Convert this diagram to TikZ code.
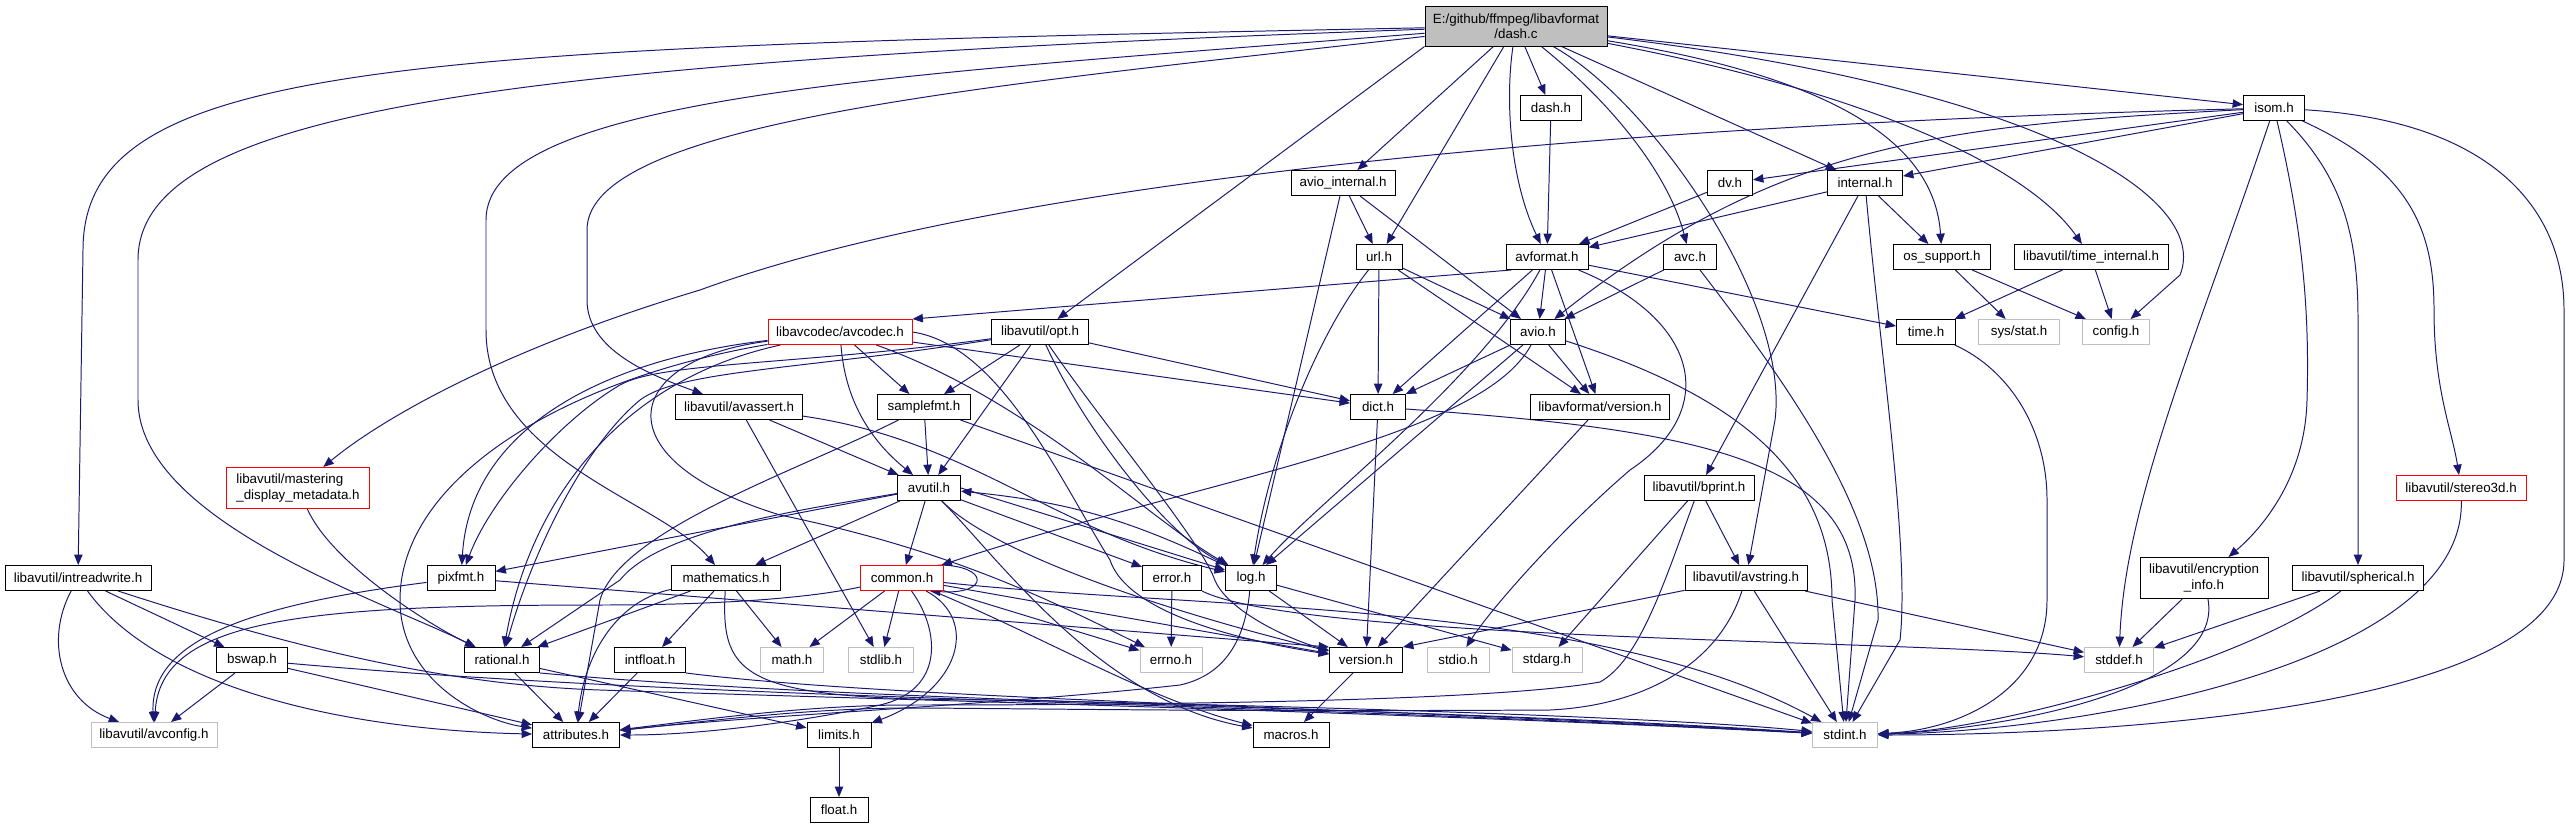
\documentclass[tikz,border=0pt]{standalone}
\usepackage{fontspec}
\setmainfont{Liberation Sans}
\usepackage{xcolor}
\usetikzlibrary{arrows.meta, backgrounds}
\definecolor{edgeblue}{HTML}{191970}
\definecolor{sysgray}{HTML}{BFBFBF}

\begin{document}
\begin{tikzpicture}[
  x=0.25mm, y=-0.25mm,
  box/.style={draw=black, fill=white, line width=0.7pt, inner sep=1pt,
              minimum height=6.25mm, align=center, font=\fontsize{9.5}{11}\selectfont},
  sysbox/.style={box, draw=sysgray},
  redbox/.style={box, draw=red},
  rootbox/.style={box, fill=sysgray},
  bw/.style={minimum width=#1*0.25mm},
  bh/.style={minimum height=#1*0.25mm},
  arr/.style={-{Triangle[length=2.6mm, width=2.1mm]}, draw=edgeblue, line width=0.7pt}
]
  \useasboundingbox (0,0) rectangle (2569,828);

  \node[rootbox, bw=182, bh=40] (dash) at (1516,26) {E:/github/ffmpeg/libavformat\\/dash.c};
  \node[box, bw=61]  (dashh)        at (1551,108) {dash.h};
  \node[box, bw=104] (aviointernal) at (1343,183) {avio\_internal.h};
  \node[box, bw=45]  (dv)           at (1730,183) {dv.h};
  \node[box, bw=75]  (internal)     at (1865,183) {internal.h};
  \node[box, bw=61]  (isom)         at (2274,108) {isom.h};
  \node[box, bw=46]  (url)          at (1379,257) {url.h};
  \node[box, bw=82]  (avformat)     at (1547,257) {avformat.h};
  \node[box, bw=53]  (avc)          at (1690,257) {avc.h};
  \node[box, bw=97]  (ossupport)    at (1942,257) {os\_support.h};
  \node[box, bw=154] (timeinternal) at (2091,257) {libavutil/time\_internal.h};
  \node[redbox, bw=144] (avcodec)   at (840,332)  {libavcodec/avcodec.h};
  \node[box, bw=97]  (opt)          at (1040,332) {libavutil/opt.h};
  \node[box, bw=55]  (avio)         at (1538,332) {avio.h};
  \node[box, bw=59]  (time)         at (1926,332) {time.h};
  \node[sysbox, bw=81] (sysstat)    at (2019,332) {sys/stat.h};
  \node[sysbox, bw=67] (config)     at (2116,332) {config.h};
  \node[box, bw=127] (avassert)     at (739,407)  {libavutil/avassert.h};
  \node[box, bw=93]  (samplefmt)    at (924,407)  {samplefmt.h};
  \node[box, bw=55]  (dict)         at (1378,407) {dict.h};
  \node[box, bw=139] (lfversion)    at (1600,407) {libavformat/version.h};
  \node[redbox, bw=143, bh=41, align=left] (mastering) at (298,488) {libavutil/mastering\\\_display\_metadata.h};
  \node[box, bw=63]  (avutil)       at (929,488)  {avutil.h};
  \node[box, bw=110] (bprint)       at (1699,488) {libavutil/bprint.h};
  \node[redbox, bw=130] (stereo)    at (2461,488) {libavutil/stereo3d.h};
  \node[box, bw=146] (intreadwrite) at (78,578)   {libavutil/intreadwrite.h};
  \node[box, bw=68]  (pixfmt)       at (461,578)  {pixfmt.h};
  \node[box, bw=109] (mathematics)  at (726,578)  {mathematics.h};
  \node[redbox, bw=83] (common)     at (902,578)  {common.h};
  \node[box, bw=59]  (error)        at (1172,578) {error.h};
  \node[box, bw=51]  (log)          at (1251,578) {log.h};
  \node[box, bw=122] (avstring)     at (1746,578) {libavutil/avstring.h};
  \node[box, bw=128, bh=41] (encryption) at (2204,578) {libavutil/encryption\\\_info.h};
  \node[box, bw=131] (spherical)    at (2358,578) {libavutil/spherical.h};
  \node[box, bw=71]  (bswap)        at (252,660)  {bswap.h};
  \node[box, bw=75]  (rational)     at (502,660)  {rational.h};
  \node[box, bw=71]  (intfloat)     at (650,660)  {intfloat.h};
  \node[sysbox, bw=63] (mathh)      at (792,660)  {math.h};
  \node[sysbox, bw=65] (stdlib)     at (881,660)  {stdlib.h};
  \node[sysbox, bw=62] (errno)      at (1171,660) {errno.h};
  \node[box, bw=73]  (version)      at (1366,660) {version.h};
  \node[sysbox, bw=62] (stdio)      at (1458,660) {stdio.h};
  \node[sysbox, bw=70] (stdarg)     at (1547,660) {stdarg.h};
  \node[sysbox, bw=69] (stddef)     at (2119,660) {stddef.h};
  \node[sysbox, bw=126] (avconfig)  at (154,735)  {libavutil/avconfig.h};
  \node[box, bw=87]  (attributes)   at (576,735)  {attributes.h};
  \node[box, bw=64]  (limits)       at (839,735)  {limits.h};
  \node[box, bw=76]  (macros)       at (1291,735) {macros.h};
  \node[sysbox, bw=65] (stdint)     at (1845,735) {stdint.h};
  \node[box, bw=58]  (float)        at (839,810)  {float.h};

  \begin{scope}[on background layer]
  \draw[arr] (dash) .. controls (400,48) and (83,60) .. (83,250) -- (intreadwrite);
  \draw[arr] (dash) .. controls (500,62) and (138,110) .. (138,260) -- (138,400) .. controls (138,520) and (380,600) .. (rational);
  \draw[arr] (dash) .. controls (900,75) and (486,95) .. (486,220) -- (486,330) .. controls (486,460) and (660,500) .. (mathematics);
  \draw[arr] (dash) .. controls (1000,85) and (587,120) .. (587,230) -- (587,300) .. controls (587,350) and (650,375) .. (avassert);
  \draw[arr] (dash.south west) -- (opt);
  \draw[arr] (dash) -- (aviointernal);
  \draw[arr] (dash) -- (url);
  \draw[arr] (dash) .. controls (1505,100) and (1510,180) .. (avformat);
  \draw[arr] (dash) -- (dashh);
  \draw[arr] (dash) .. controls (1620,110) and (1670,180) .. (avc);
  \draw[arr] (dash) .. controls (1650,100) and (1790,300) .. (1775,420) -- (avstring);
  \draw[arr] (dash) -- (internal);
  \draw[arr] (dash) -- (isom);
  \draw[arr] (dash) .. controls (1850,80) and (1935,150) .. (ossupport);
  \draw[arr] (dash) .. controls (1880,95) and (2030,170) .. (timeinternal);
  \draw[arr] (dash) .. controls (2050,90) and (2210,200) .. (2180,275) -- (config);

  \draw[arr] (dashh) -- (avformat);
  \draw[arr] (aviointernal) -- (url);
  \draw[arr] (aviointernal) -- (avio);
  \draw[arr] (aviointernal) -- (log);
  \draw[arr] (url) -- (dict);
  \draw[arr] (url) -- (avio);
  \draw[arr] (url) -- (lfversion);
  \draw[arr] (url) .. controls (1320,330) and (1270,450) .. (log);

  \draw[arr] (avformat.200) -- (avcodec.north east);
  \draw[arr] (avformat) -- (dict);
  \draw[arr] (avformat) .. controls (1480,380) and (1320,500) .. (log);
  \draw[arr] (avformat) -- (avio);
  \draw[arr] (avformat) -- (lfversion);
  \draw[arr] (avformat) -- (time);
  \draw[arr] (avformat) .. controls (1700,320) and (1720,410) .. (1630,470) .. controls (1560,530) and (1490,610) .. (stdio);
  \draw[arr] (avc) -- (avio);
  \draw[arr] (avc) .. controls (1800,400) and (1880,520) .. (1878,620) -- (stdint);

  \draw[arr] (isom) -- (dv);
  \draw[arr] (isom) -- (internal);
  \draw[arr] (isom) .. controls (1950,125) and (1780,140) .. (avio);
  \draw[arr] (isom) .. controls (1600,125) and (1000,180) .. (700,290) .. controls (500,350) and (380,420) .. (mastering);
  \draw[arr] (isom) .. controls (2200,330) and (2125,500) .. (stddef);
  \draw[arr] (isom) .. controls (2300,220) and (2310,300) .. (2307,400) .. controls (2305,480) and (2260,530) .. (encryption);
  \draw[arr] (isom) .. controls (2345,180) and (2358,240) .. (2358,320) -- (spherical);
  \draw[arr] (isom) .. controls (2410,170) and (2434,230) .. (2434,310) .. controls (2434,390) and (2452,430) .. (stereo);
  \draw[arr] (isom) .. controls (2480,120) and (2564,200) .. (2564,310) -- (2564,560) .. controls (2564,710) and (2100,735) .. (stdint);

  \draw[arr] (internal) -- (avformat);
  \draw[arr] (internal) -- (ossupport);
  \draw[arr] (internal) .. controls (1880,350) and (1910,550) .. (1900,640) -- (stdint);
  \draw[arr] (internal) -- (bprint);
  \draw[arr] (dv) -- (avformat);
  \draw[arr] (ossupport) -- (sysstat);
  \draw[arr] (ossupport) -- (config);
  \draw[arr] (timeinternal) -- (time);
  \draw[arr] (timeinternal) -- (config);
  \draw[arr] (time) .. controls (2010,370) and (2047,430) .. (2047,500) -- (2047,600) .. controls (2047,690) and (1960,730) .. (stdint);

  \draw[arr] (avcodec) -- (samplefmt);
  \draw[arr] (avcodec) .. controls (845,400) and (870,440) .. (avutil);
  \draw[arr] (avcodec) -- (dict);
  \draw[arr] (avcodec) .. controls (1030,400) and (1150,520) .. (log);
  \draw[arr] (avcodec.east) .. controls (1000,345) and (1060,480) .. (1110,560) .. controls (1130,620) and (1270,645) .. (version);
  \draw[arr] (avcodec) .. controls (600,360) and (470,430) .. (pixfmt);
  \draw[arr] (avcodec) .. controls (620,380) and (530,500) .. (rational);
  \draw[arr] (avcodec) .. controls (560,380) and (400,480) .. (400,600) .. controls (400,680) and (480,720) .. (attributes);
  \draw[arr] (avcodec) .. controls (620,360) and (600,460) .. (780,515) .. controls (950,550) and (1050,600) .. (errno);

  \draw[arr] (opt) -- (samplefmt);
  \draw[arr] (opt) -- (avutil);
  \draw[arr] (opt) -- (dict);
  \draw[arr] (opt) .. controls (1080,420) and (1160,530) .. (log);
  \draw[arr] (opt) .. controls (1100,420) and (1200,540) .. (1214,578) .. controls (1225,610) and (1290,640) .. (version);
  \draw[arr] (opt) .. controls (800,365) and (660,362) .. (620,385) .. controls (560,420) and (490,500) .. (pixfmt);
  \draw[arr] (opt) .. controls (800,370) and (680,370) .. (640,400) .. controls (580,450) and (530,560) .. (rational);

  \draw[arr] (samplefmt) -- (avutil);
  \draw[arr] (samplefmt) .. controls (800,470) and (620,530) .. (600,600) -- (attributes);
  \draw[arr] (samplefmt) -- (stdint);
  \draw[arr] (avassert) -- (avutil);
  \draw[arr] (avassert) -- (stdlib);
  \draw[arr] (avassert) .. controls (970,440) and (1050,530) .. (log);

  \draw[arr] (avutil) -- (common);
  \draw[arr] (avutil) -- (mathematics);
  \draw[arr] (avutil) -- (pixfmt);
  \draw[arr] (avutil) .. controls (800,510) and (660,530) .. (620,580) -- (rational);
  \draw[arr] (avutil) -- (error);
  \draw[arr] (avutil.east) -- (log);
  \draw[arr] (log) to[bend right=10] (avutil);
  \draw[arr] (avutil) .. controls (1000,560) and (1200,620) .. (version);
  \draw[arr] (avutil) .. controls (1000,560) and (1100,700) .. (macros);

  \draw[arr] (common) -- (mathh);
  \draw[arr] (common) -- (stdlib);
  \draw[arr] (common) -- (errno);
  \draw[arr] (common) .. controls (980,620) and (960,690) .. (limits);
  \draw[arr] (common) .. controls (940,630) and (945,690) .. (880,705) .. controls (800,722) and (700,735) .. (attributes);
  \draw[arr] (common) .. controls (1050,640) and (1150,700) .. (macros);
  \draw[arr] (common) -- (version);
  \draw[arr] (common) .. controls (1200,610) and (1600,600) .. (stdint);
  \draw[arr] (common) .. controls (800,600) and (700,605) .. (600,605) .. controls (300,605) and (160,620) .. (avconfig);
  \draw[arr] (common.20) .. controls (990,565) and (990,595) .. (common.-25);

  \draw[arr] (error) -- (errno);
  \draw[arr] (error.south east) .. controls (1300,640) and (1900,640) .. (stddef);
  \draw[arr] (log) -- (version);
  \draw[arr] (log) -- (stdarg);
  \draw[arr] (log) .. controls (1245,640) and (1225,675) .. (1180,685) .. controls (1000,705) and (760,715) .. (attributes);
  \draw[arr] (avstring) -- (version.north east);
  \draw[arr] (avstring) .. controls (1720,660) and (1650,705) .. (1550,710) .. controls (1200,712) and (1000,708) .. (900,708) .. controls (800,709) and (700,722) .. (attributes);
  \draw[arr] (avstring) -- (stdint);
  \draw[arr] (avstring) -- (stddef);
  \draw[arr] (bprint) -- (avstring);
  \draw[arr] (bprint) -- (stdarg);
  \draw[arr] (bprint) .. controls (1665,580) and (1640,660) .. (1600,682) .. controls (1500,700) and (1200,705) .. (900,705) .. controls (800,706) and (700,720) .. (attributes);

  \draw[arr] (lfversion) -- (version);
  \draw[arr] (dict) -- (version);
  \draw[arr] (dict) .. controls (1700,430) and (1860,460) .. (1855,600) -- (stdint);
  \draw[arr] (avio) -- (dict);
  \draw[arr] (avio) -- (lfversion);
  \draw[arr] (avio) -- (log);
  \draw[arr] (avio) .. controls (1480,440) and (1200,480) .. (common);
  \draw[arr] (avio) .. controls (1750,400) and (1832,480) .. (1832,600) -- (stdint);

  \draw[arr] (pixfmt) .. controls (250,605) and (150,640) .. (avconfig);
  \draw[arr] (pixfmt) -- (version.north west);
  \draw[arr] (rational) -- (attributes);
  \draw[arr] (rational) -- (limits);
  \draw[arr] (rational.south east) .. controls (900,705) and (1400,705) .. (stdint);
  \draw[arr] (intfloat) -- (attributes);
  \draw[arr] (intfloat.south east) .. controls (900,700) and (1400,708) .. (stdint);
  \draw[arr] (mathematics) -- (rational);
  \draw[arr] (mathematics) -- (intfloat);
  \draw[arr] (mathematics) -- (mathh);
  \draw[arr] (mathematics) .. controls (620,600) and (585,650) .. (attributes);
  \draw[arr] (mathematics) .. controls (720,680) and (745,700) .. (1000,700) .. controls (1400,708) and (1700,720) .. (stdint);
  \draw[arr] (bswap) -- (avconfig);
  \draw[arr] (bswap) -- (attributes);
  \draw[arr] (bswap) .. controls (700,700) and (1200,700) .. (stdint);
  \draw[arr] (intreadwrite) .. controls (45,640) and (60,700) .. (avconfig);
  \draw[arr] (intreadwrite) .. controls (160,690) and (350,730) .. (attributes);
  \draw[arr] (intreadwrite) -- (bswap);
  \draw[arr] (intreadwrite) .. controls (300,650) and (450,685) .. (600,690) .. controls (900,700) and (1400,712) .. (stdint);
  \draw[arr] (mastering) .. controls (330,560) and (420,620) .. (rational);
  \draw[arr] (limits) -- (float);
  \draw[arr] (version) -- (macros);
  \draw[arr] (encryption) -- (stddef);
  \draw[arr] (encryption) .. controls (2225,690) and (2000,730) .. (stdint);
  \draw[arr] (spherical) -- (stddef);
  \draw[arr] (spherical) .. controls (2250,660) and (2000,730) .. (stdint);
  \draw[arr] (stereo) .. controls (2465,660) and (2100,730) .. (stdint);
  \end{scope}
\end{tikzpicture}
\end{document}
